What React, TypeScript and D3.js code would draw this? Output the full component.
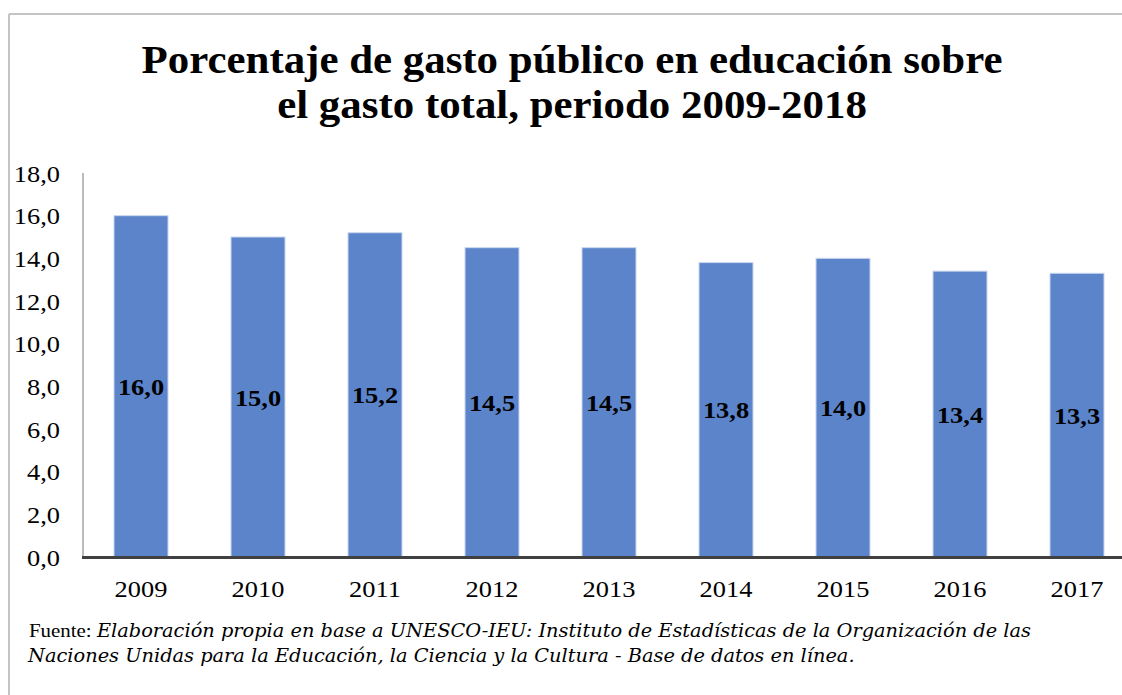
import React from "react";
import * as d3 from "d3";

const years = ["2009", "2010", "2011", "2012", "2013", "2014", "2015", "2016", "2017"];
const values = [16.0, 15.0, 15.2, 14.5, 14.5, 13.8, 14.0, 13.4, 13.3];
const yTicks = [0, 2, 4, 6, 8, 10, 12, 14, 16, 18];
const titleLines = ["Porcentaje de gasto público en educación sobre", "el gasto total, periodo 2009-2018"];
const sourceLabel = "Fuente: ";
const sourceLine1 = "Elaboración propia en base a UNESCO-IEU: Instituto de Estadísticas de la Organización de las";
const sourceLine2 = "Naciones Unidas para la Educación, la Ciencia y la Cultura - Base de datos en línea.";

const W = 1122;
const H = 695;
const plotLeft = 82.5;
const band = 117;
const plotTop = 173;
const plotBottom = 557;
const serif = "'Liberation Serif', 'Times New Roman', serif";
const italicSerif = "'DejaVu Serif', 'Liberation Serif', serif";
const SX = 1.1;

const fmt = (v: number) => d3.format(".1f")(v).replace(".", ",");

const T = ({ x, y, children, sx = SX, ...rest }: any) => (
  <text transform={`translate(${x},${y}) scale(${sx},1)`} fontFamily={serif} fill="#000" {...rest}>
    {children}
  </text>
);

export default function App() {
  const x = d3
    .scaleBand<string>()
    .domain(years)
    .range([plotLeft, plotLeft + band * years.length])
    .paddingInner(63 / 117)
    .paddingOuter(31.5 / 117);
  const y = d3.scaleLinear().domain([0, 18]).range([plotBottom, plotTop]);

  return (
    <svg
      width={W}
      height={H}
      style={{ position: "absolute", left: 0, top: 0, background: "#fff" }}
      fontFamily={serif}
    >
      <rect x={0} y={0} width={W} height={H} fill="#fff" />
      {/* frame */}
      <line x1={9} y1={14} x2={W} y2={14} stroke="#C4C4C4" strokeWidth={2} />
      <line x1={9} y1={14} x2={9} y2={H} stroke="#C4C4C4" strokeWidth={2} />

      {/* title */}
      {titleLines.map((t, i) => (
        <T key={i} x={572} y={73 + i * 45} textAnchor="middle" fontSize={39} fontWeight="bold">
          {t}
        </T>
      ))}

      {/* y axis */}
      <line x1={83} y1={plotTop} x2={83} y2={plotBottom} stroke="#A6A6A6" strokeWidth={1.5} />
      {yTicks.map((t) => (
        <T key={t} x={60} y={y(t) + 8.5} textAnchor="end" fontSize={24}>
          {fmt(t)}
        </T>
      ))}

      {/* bars */}
      {years.map((yr, i) => (
        <rect
          key={yr}
          x={x(yr)!}
          y={y(values[i])}
          width={x.bandwidth()}
          height={y(0) - y(values[i])}
          fill="#5B84CB"
          stroke="#CAD7EF"
          strokeWidth={1}
        />
      ))}

      {/* baseline */}
      <line x1={82} y1={557.5} x2={W} y2={557.5} stroke="#404040" strokeWidth={3} />

      {/* bar labels */}
      {years.map((yr, i) => (
        <T
          key={yr}
          x={x(yr)! + x.bandwidth() / 2}
          y={(y(values[i]) + y(0)) / 2 + 8.5}
          textAnchor="middle"
          fontSize={24}
          fontWeight="bold"
        >
          {fmt(values[i])}
        </T>
      ))}

      {/* x labels */}
      {years.map((yr) => (
        <T key={yr} x={x(yr)! + x.bandwidth() / 2} y={597} textAnchor="middle" fontSize={24}>
          {yr}
        </T>
      ))}

      {/* source */}
      <T x={29} y={637} fontSize={19}>
        <tspan fontFamily={serif}>{sourceLabel}</tspan>
        <tspan fontFamily={italicSerif} fontStyle="italic" fontSize={17.6}>
          {sourceLine1}
        </tspan>
      </T>
      <T x={28} y={662} fontSize={17.6} fontStyle="italic" fontFamily={italicSerif}>
        {sourceLine2}
      </T>
    </svg>
  );
}
